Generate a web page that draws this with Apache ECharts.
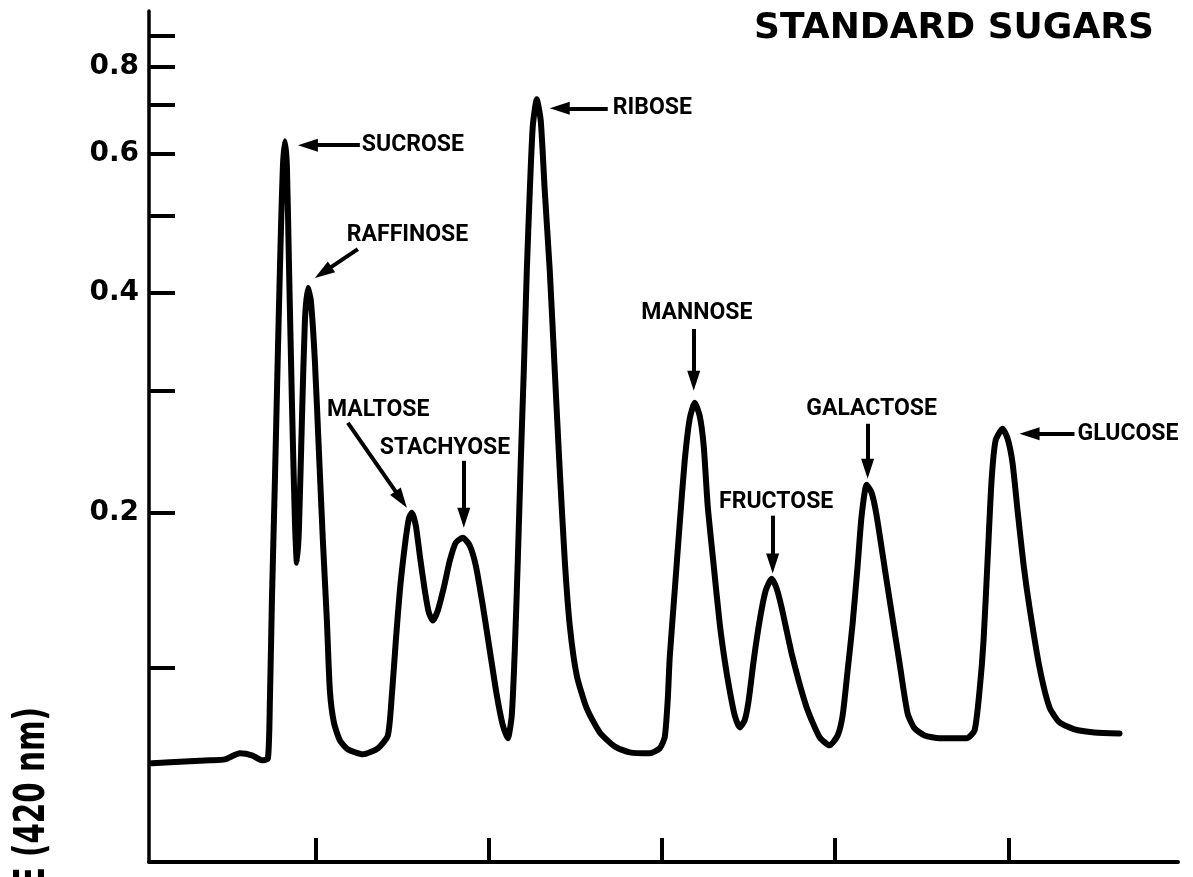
<!DOCTYPE html>
<html>
<head>
<meta charset="utf-8">
<script src="https://cdn.jsdelivr.net/npm/echarts@6/dist/echarts.min.js"></script>
<style>
html,body{margin:0;padding:0;background:#fff;}
#chart{width:1193px;height:877px;}
</style>
</head>
<body>
<div id="chart"></div>
<script>
// Elution position (arbitrary units, ticks every 10) and absorbance at 420 nm
const traceX = [0.531,1.570,2.725,3.880,4.746,5.612,6.305,6.882,7.229,7.344,7.460,7.633,7.806,7.979,8.095,8.210,8.326,8.441,8.614,8.788,8.903,9.018,9.192,9.365,9.538,9.711,9.942,10.173,10.404,10.635,10.808,11.039,11.386,11.848,12.714,13.580,14.157,14.388,14.619,14.850,15.139,15.370,15.543,15.774,16.004,16.293,16.524,16.755,17.044,17.390,17.737,18.083,18.487,18.892,19.238,19.642,20.046,20.451,20.797,21.086,21.316,21.490,21.663,21.836,22.010,22.183,22.356,22.529,22.760,22.991,23.222,23.511,23.799,24.088,24.377,24.665,25.070,25.647,26.398,27.263,28.129,29.284,29.861,30.150,30.323,30.439,30.728,31.016,31.305,31.594,31.882,32.171,32.402,32.633,32.980,33.326,33.615,33.903,34.192,34.481,34.770,35.000,35.289,35.635,35.982,36.328,36.617,36.905,37.540,38.349,39.100,39.677,40.139,40.428,40.716,41.005,41.294,41.525,41.814,42.102,42.391,42.968,43.719,44.181,44.584,45.162,46.028,47.587,48.049,48.337,48.568,48.799,49.030,49.261,49.665,49.954,50.243,50.531,50.878,51.224,51.801,52.379,52.956,53.822,54.977,56.420];
const traceA = [0.0479,0.0484,0.0489,0.0494,0.0499,0.0530,0.0520,0.0494,0.0504,0.0814,0.1406,0.2242,0.3377,0.4779,0.5782,0.6239,0.5782,0.4384,0.2905,0.1945,0.1653,0.1874,0.2729,0.3687,0.4056,0.3907,0.3278,0.2479,0.1804,0.1281,0.0869,0.0694,0.0598,0.0551,0.0525,0.0556,0.0624,0.0842,0.1159,0.1469,0.1769,0.1959,0.2003,0.1909,0.1701,0.1469,0.1330,0.1281,0.1343,0.1489,0.1667,0.1790,0.1824,0.1769,0.1633,0.1374,0.1100,0.0842,0.0678,0.0609,0.0732,0.1100,0.1667,0.2398,0.3182,0.4260,0.5368,0.6539,0.7136,0.6643,0.5368,0.4260,0.3182,0.2319,0.1667,0.1250,0.0954,0.0770,0.0640,0.0566,0.0535,0.0530,0.0556,0.0614,0.0814,0.1058,0.1469,0.1923,0.2398,0.2747,0.2887,0.2772,0.2519,0.2054,0.1633,0.1262,0.1041,0.0869,0.0732,0.0667,0.0705,0.0814,0.1041,0.1281,0.1469,0.1547,0.1482,0.1361,0.1058,0.0775,0.0614,0.0572,0.0624,0.0732,0.0983,0.1262,0.1633,0.1981,0.2211,0.2150,0.1981,0.1534,0.1023,0.0742,0.0662,0.0624,0.0609,0.0609,0.0651,0.0869,0.1159,0.1667,0.2242,0.2561,0.2661,0.2580,0.2380,0.2020,0.1640,0.1361,0.1000,0.0775,0.0694,0.0656,0.0640,0.0635];

const xTickValues = [10, 20, 30, 40, 50];
const yTickA = [0.1, 0.2, 0.3, 0.4, 0.5, 0.6, 0.7, 0.8, 0.9];
const yLabelA = [0.2, 0.4, 0.6, 0.8];

// Peak annotations
const peakNames = ['SUCROSE','RAFFINOSE','MALTOSE','STACHYOSE','RIBOSE','MANNOSE','FRUCTOSE','GALACTOSE','GLUCOSE'];
const labelX = [12.656, 11.790, 10.635, 13.695, 27.148, 32.0, 36.588, 42.102, 53.995];
const labelA = [0.6163, 0.4724, 0.2825, 0.2503, 0.6928, 0.3774, 0.2076, 0.2834, 0.2619];
const labelAlign = ['left','left','left','left','left','center','center','center','left'];
const arrowFromX = [12.540, 12.425, 11.848, 18.545, 26.859, 31.825, 36.386, 41.871, 53.822];
const arrowFromA = [0.6163, 0.4537, 0.2712, 0.2398, 0.6928, 0.3602, 0.1981, 0.2704, 0.2619];
const arrowToX = [9.538, 10.422, 14.925, 18.545, 24.088, 31.825, 36.386, 41.871, 51.224];
const arrowToA = [0.6163, 0.4243, 0.2100, 0.1966, 0.6928, 0.3088, 0.1647, 0.2335, 0.2619];

const toT = a => Math.pow(10, -a); // plotted on a transmittance-linear absorbance scale

const chart = echarts.init(document.getElementById('chart'), null, {renderer: 'canvas'});
const arrowHead = 'path://M5,0L10,20L0,20Z';

const lineData = traceX.map((x, i) => [x, toT(traceA[i])]);
const labelData = peakNames.map((n, i) => ({
  name: n,
  coord: [labelX[i], toT(labelA[i])],
  label: {formatter: n, align: labelAlign[i]}
}));
const arrowData = peakNames.map((n, i) => ([
  {coord: [arrowFromX[i], toT(arrowFromA[i])], symbol: 'none'},
  {coord: [arrowToX[i], toT(arrowToA[i])], symbol: arrowHead, symbolSize: [13, 20]}
]));

const option = {
  animation: false,
  backgroundColor: '#fff',
  grid: {left: 149, right: 15, top: 11, bottom: 15, containLabel: false},
  xAxis: {
    type: 'value', min: 0.36, max: 59.8,
    axisLine: {show: true, onZero: false, lineStyle: {color: '#000', width: 4}},
    axisTick: {show: true, inside: true, length: 24, customValues: xTickValues, lineStyle: {color: '#000', width: 4}},
    axisLabel: {show: false},
    splitLine: {show: false}
  },
  yAxis: {
    type: 'value', inverse: true, min: 0.1, max: 1,
    axisLine: {show: true, onZero: false, lineStyle: {color: '#000', width: 3.5}},
    axisTick: {show: true, inside: true, length: 26, customValues: yTickA.map(toT), lineStyle: {color: '#000', width: 4}},
    axisLabel: {
      show: true, customValues: yLabelA.map(toT), margin: 10,
      formatter: v => (-Math.log10(v)).toFixed(1),
      color: '#000', fontFamily: 'DejaVu Sans', fontWeight: 'bold', fontSize: 28
    },
    splitLine: {show: false}
  },
  series: [{
    type: 'line',
    data: lineData,
    showSymbol: false,
    symbol: 'none',
    smooth: 0.2,
    lineStyle: {color: '#000', width: 6, cap: 'round', join: 'round'},
    silent: true,
    markPoint: {
      silent: true,
      symbol: 'circle', symbolSize: 0,
      itemStyle: {color: 'rgba(0,0,0,0)'},
      label: {show: true, position: 'inside', verticalAlign: 'middle', color: '#000',
        fontFamily: 'Roboto', fontWeight: 'bold', fontSize: 23},
      data: labelData
    },
    markLine: {
      silent: true,
      symbol: ['none', arrowHead],
      label: {show: false},
      lineStyle: {color: '#000', width: 4, type: 'solid'},
      itemStyle: {color: '#000'},
      emphasis: {disabled: true},
      data: arrowData
    }
  }],
  graphic: [
    {type: 'text', x: 954, y: 29, silent: true,
     style: {text: 'STANDARD SUGARS', font: 'bold 36px "DejaVu Sans"', fill: '#000', textAlign: 'center', textVerticalAlign: 'middle'}},
    {type: 'text', x: 33, y: 707, rotation: Math.PI / 2, scaleX: 0.7, silent: true,
     style: {text: 'ABSORBANCE (420 nm)', font: 'bold 42px "DejaVu Sans"', fill: '#000', textAlign: 'right', textVerticalAlign: 'middle'}}
  ]
};
chart.setOption(option);
</script>
</body>
</html>
